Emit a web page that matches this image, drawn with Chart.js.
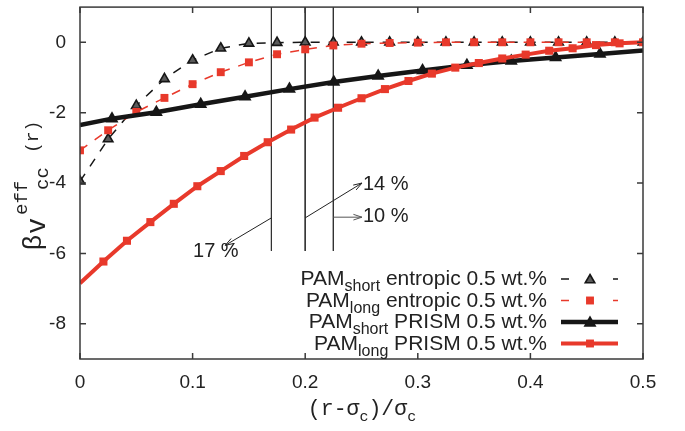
<!DOCTYPE html>
<html lang="en">
<head>
<meta charset="utf-8" />
<title>Effective colloid-colloid potential</title>
<script src="https://cdn.jsdelivr.net/npm/chart.js@4.4.1/dist/chart.umd.min.js"></script>
<style>
  html, body { margin: 0; padding: 0; background: #fff; }
  #wrap { width: 685px; height: 431px; }
</style>
</head>
<body>
<div id="wrap"><canvas id="c" width="685" height="431"></canvas></div>
<script>
// ---- data ----
const xTicks = [0, 0.1, 0.2, 0.3, 0.4, 0.5]
const yTicks = [-8, -6, -4, -2, 0]

// entropic curves, sampled every 0.025
const xEntropic = [0, 0.025, 0.05, 0.075, 0.1, 0.125, 0.15, 0.175, 0.2, 0.225, 0.25,
  0.275, 0.3, 0.325, 0.35, 0.375, 0.4, 0.425, 0.45, 0.475, 0.5]
const shortEntropic = [-3.95, -2.75, -1.80, -1.04, -0.51, -0.17, -0.03, -0.01, 0, 0, 0,
  0, 0, 0, 0, 0, 0, 0, 0, 0, 0]
const longEntropic = [-3.07, -2.50, -1.98, -1.58, -1.19, -0.85, -0.57, -0.34, -0.20, -0.09, -0.04,
  -0.02, -0.01, 0, 0, 0, 0, 0, 0, 0, 0]

// PRISM curves
const xPrismShort = [0, 0.0284, 0.0678, 0.1072, 0.1466, 0.186, 0.2254, 0.2648, 0.3042,
  0.3436, 0.383, 0.4224, 0.4618, 0.5]
const shortPrism = [-2.35, -2.17, -1.99, -1.76, -1.55, -1.33, -1.13, -0.96, -0.80,
  -0.65, -0.53, -0.43, -0.33, -0.23]
const xPrismLong = [0, 0.0208, 0.0417, 0.0625, 0.0833, 0.1042, 0.125, 0.1458, 0.1667, 0.1875,
  0.2083, 0.2292, 0.25, 0.2708, 0.2917, 0.3125, 0.3333, 0.3542, 0.375, 0.3958,
  0.4167, 0.4375, 0.4583, 0.4792, 0.5]
const longPrism = [-6.85, -6.23, -5.64, -5.11, -4.59, -4.09, -3.66, -3.23, -2.84, -2.48,
  -2.14, -1.86, -1.59, -1.33, -1.10, -0.89, -0.72, -0.59, -0.46, -0.35,
  -0.24, -0.17, -0.08, -0.03, 0]

// vertical marker lines and their arrow labels
const vlineX = [0.17, 0.2, 0.225]
const vlineTop = 1
const vlineBottom = -5.93
const arrowFrom = [[0.17, -4.99], [0.2, -4.99], [0.225, -4.97]]
const arrowTo = [[0.129, -5.77], [0.2504, -4.0], [0.2504, -4.97]]
const arrowText = ['17 %', '14 %', '10 %']
const arrowTextAt = [[0.1004, -5.94], [0.2513, -4.03], [0.2513, -4.96]]

// legend
const legendMain = ['PAM', 'PAM', 'PAM', 'PAM']
const legendSub = ['short', 'long', 'short', 'long']
const legendRest = [' entropic 0.5 wt.%', ' entropic 0.5 wt.%', ' PRISM 0.5 wt.%', ' PRISM 0.5 wt.%']

const RED = '#e8392b'
const BLACK = '#161616'
const SANS = '"Liberation Sans", Arial, Helvetica, sans-serif'
const MONO = '"Liberation Mono", "Courier New", monospace'

const pts = (xs, ys) => xs.map((x, i) => ({ x, y: ys[i] }))
const endsHidden = (xs, r) => xs.map((_, i) => (i === 0 || i === xs.length - 1 ? 0 : r))

const datasets = [
  {
    label: 'PAM long PRISM', data: pts(xPrismLong, longPrism),
    borderColor: RED, backgroundColor: RED, borderWidth: 4,
    pointStyle: 'rect', pointRadius: endsHidden(xPrismLong, 5.7), pointBorderWidth: 0,
  },
  {
    label: 'PAM short PRISM', data: pts(xPrismShort, shortPrism),
    borderColor: BLACK, backgroundColor: BLACK, borderWidth: 4.5,
    pointStyle: 'triangle', pointRadius: endsHidden(xPrismShort, 7.5), pointBorderWidth: 0,
  },
  {
    label: 'PAM long entropic', data: pts(xEntropic, longEntropic),
    borderColor: RED, backgroundColor: RED, borderWidth: 1.5, borderDash: [9, 9],
    pointStyle: 'rect', pointRadius: 5.6, pointBorderWidth: 0,
  },
  {
    label: 'PAM short entropic', data: pts(xEntropic, shortEntropic),
    borderColor: BLACK, backgroundColor: '#5a5a5a', borderWidth: 1.5, borderDash: [9, 9],
    pointStyle: 'triangle', pointRadius: 5.5, pointBorderWidth: 1.6, pointBorderColor: BLACK,
  },
]
vlineX.forEach((x) => {
  datasets.push({
    label: 'r=' + x, data: [{ x, y: vlineTop }, { x, y: vlineBottom }],
    borderColor: '#333', borderWidth: 1, pointRadius: 0,
  })
})

function drawArrow(ctx, x1, y1, x2, y2, color) {
  ctx.strokeStyle = color
  ctx.lineWidth = 1
  ctx.beginPath(); ctx.moveTo(x1, y1); ctx.lineTo(x2, y2); ctx.stroke()
  const a = Math.atan2(y2 - y1, x2 - x1), L = 9, w = 0.32
  ctx.beginPath()
  ctx.moveTo(x2 - L * Math.cos(a - w), y2 - L * Math.sin(a - w))
  ctx.lineTo(x2, y2)
  ctx.lineTo(x2 - L * Math.cos(a + w), y2 - L * Math.sin(a + w))
  ctx.stroke()
}

function marker(ctx, style, x, y, r, fill, stroke) {
  ctx.fillStyle = fill
  ctx.beginPath()
  if (style === 'rect') {
    const s = r * Math.SQRT1_2
    ctx.rect(x - s, y - s, 2 * s, 2 * s)
  } else {
    for (let k = 0; k < 3; k++) {
      const a = k * 2 * Math.PI / 3
      ctx[k ? 'lineTo' : 'moveTo'](x + Math.sin(a) * r, y - Math.cos(a) * r)
    }
    ctx.closePath()
  }
  ctx.fill()
  if (stroke) { ctx.strokeStyle = stroke; ctx.lineWidth = 1.6; ctx.setLineDash([]); ctx.stroke() }
}

// pieces: [text, font, dy]; drawn one after another from x
function richWidth(ctx, pieces) {
  let w = 0
  pieces.forEach(([t, f]) => { ctx.font = f; w += ctx.measureText(t).width })
  return w
}
function drawRich(ctx, x, y, pieces) {
  let cx = x
  pieces.forEach(([t, f, dy]) => {
    ctx.font = f
    ctx.fillText(t, cx, y + dy)
    cx += ctx.measureText(t).width
  })
}

const decor = {
  id: 'decor',
  afterDatasetsDraw(chart) {
    const { ctx, chartArea: a, scales } = chart
    const X = (v) => scales.x.getPixelForValue(v)
    const Y = (v) => scales.y.getPixelForValue(v)
    ctx.save()

    // frame with inward ticks on all sides
    ctx.strokeStyle = '#3a3a3a'
    ctx.lineWidth = 1.5
    ctx.setLineDash([])
    ctx.strokeRect(a.left, a.top, a.right - a.left, a.bottom - a.top)
    ctx.beginPath()
    xTicks.forEach((v) => {
      const px = X(v)
      ctx.moveTo(px, a.bottom); ctx.lineTo(px, a.bottom - 6)
      ctx.moveTo(px, a.top); ctx.lineTo(px, a.top + 6)
    })
    yTicks.forEach((v) => {
      const py = Y(v)
      ctx.moveTo(a.left, py); ctx.lineTo(a.left + 6, py)
      ctx.moveTo(a.right, py); ctx.lineTo(a.right - 6, py)
    })
    ctx.stroke()

    // arrows + percent labels
    arrowFrom.forEach((f, i) => {
      const col = i === 2 ? '#555' : '#222'
      drawArrow(ctx, X(f[0]), Y(f[1]), X(arrowTo[i][0]), Y(arrowTo[i][1]), col)
      ctx.fillStyle = '#222'
      ctx.font = '20px ' + SANS
      ctx.textBaseline = 'middle'
      ctx.textAlign = 'left'
      ctx.fillText(arrowText[i], X(arrowTextAt[i][0]), Y(arrowTextAt[i][1]))
    })

    // legend
    ctx.textBaseline = 'alphabetic'
    const rowY = [279, 300.5, 322, 343.5]
    const fMain = '21px ' + SANS, fSub = '16px ' + SANS
    legendMain.forEach((m, i) => {
      const pieces = [[m, fMain, 0], [legendSub[i], fSub, 6], [legendRest[i], fMain, 0]]
      ctx.fillStyle = '#222'
      drawRich(ctx, 547 - richWidth(ctx, pieces), rowY[i] + 6, pieces)
    })
    const ds = chart.data.datasets
    // sample glyphs, rows 0..3 = short entropic, long entropic, short PRISM, long PRISM
    const sample = [ds[3], ds[2], ds[1], ds[0]]
    sample.forEach((d, i) => {
      const y = rowY[i]
      ctx.strokeStyle = d.borderColor
      ctx.lineWidth = d.borderWidth
      ctx.setLineDash([])
      ctx.beginPath()
      if (d.borderDash) {
        ctx.moveTo(561, y); ctx.lineTo(569, y)
        ctx.moveTo(613, y); ctx.lineTo(618, y)
      } else {
        ctx.moveTo(561, y); ctx.lineTo(618, y)
      }
      ctx.stroke()
      const r = d.pointStyle === 'rect' ? 5.6 : (d.borderDash ? 5.5 : 7.5)
      marker(ctx, d.pointStyle, 590, d.pointStyle === 'rect' ? y : y + 1, r, d.backgroundColor,
        d.pointBorderWidth ? d.pointBorderColor : null)
    })

    // x axis title: (r-σc)/σc
    ctx.fillStyle = '#222'
    const fm = '21.5px ' + MONO, fs = '15px ' + MONO
    const xt = [['(r-σ', fm, 0], ['c', fs, 6], [')/σ', fm, 0], ['c', fs, 6]]
    drawRich(ctx, 362 - richWidth(ctx, xt) / 2, 415, xt)

    // y axis title: βv^eff_cc(r), rotated (text runs bottom to top)
    ctx.translate(45, 250)
    ctx.rotate(-Math.PI / 2)
    ctx.font = '26px ' + SANS
    ctx.fillText('β', 0, -4)
    ctx.font = '27px ' + MONO
    ctx.fillText('v', 16, 0)
    ctx.font = '19px ' + MONO
    ctx.fillText('eff', 35, -18)
    ctx.fillText('cc', 60, 3)
    ctx.font = '18px ' + MONO
    ctx.fillText('(r)', 97, -7)
    ctx.restore()
  },
}

new Chart(document.getElementById('c'), {
  type: 'line',
  data: { datasets },
  options: {
    responsive: false,
    animation: false,
    devicePixelRatio: 1,
    layout: { padding: { top: 7, right: 42, left: 0, bottom: 0 } },
    plugins: { legend: { display: false }, tooltip: { enabled: false } },
    elements: { line: { tension: 0 } },
    scales: {
      x: {
        type: 'linear', min: 0, max: 0.5,
        afterBuildTicks: (s) => { s.ticks = xTicks.map((v) => ({ value: v })) },
        afterFit: (s) => { s.height = 72; s.paddingLeft = 0; s.paddingRight = 0 },
        grid: { display: false, drawTicks: false }, border: { display: false },
        ticks: { padding: 12, color: '#222', autoSkip: false, maxRotation: 0,
          font: { family: SANS, size: 19 }, callback: (v) => String(v) },
      },
      y: {
        type: 'linear', min: -9, max: 1,
        afterBuildTicks: (s) => { s.ticks = yTicks.map((v) => ({ value: v })) },
        afterFit: (s) => { s.width = 80; s.paddingTop = 0; s.paddingBottom = 0 },
        grid: { display: false, drawTicks: false }, border: { display: false },
        ticks: { padding: 14, color: '#222', autoSkip: false,
          font: { family: SANS, size: 19 }, callback: (v) => String(v) },
      },
    },
  },
  plugins: [decor],
})
</script>
</body>
</html>
